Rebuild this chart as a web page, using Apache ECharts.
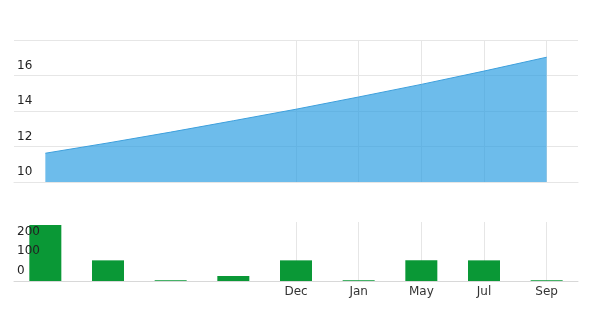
<!DOCTYPE html>
<html>
<head>
<meta charset="utf-8">
<script src="https://cdn.jsdelivr.net/npm/echarts@6/dist/echarts.min.js"></script>
<style>
html,body{margin:0;padding:0;background:#fff;}
#chart{width:602px;height:316px;}
</style>
</head>
<body>
<div id="chart"></div>
<script>
// Data
var categories = ['', '', '', '', 'Dec', 'Jan', 'May', 'Jul', 'Sep'];
var lineValues = [11.62, 12.2, 12.81, 13.45, 14.1, 14.79, 15.5, 16.25, 17.03];
var barValues = [285, 105, 4, 25, 105, 4, 105, 105, 4];
var topTicks = {min: 10, max: 18, interval: 2};
var bottomTicks = {min: 0, max: 300, interval: 100};

var FONT = 'DejaVu Sans';
var gridColor = '#e6e6e6';
var splitInterval = function (i) { return i >= 4; };

var chart = echarts.init(document.getElementById('chart'), null, {renderer: 'canvas'});
chart.setOption({
  animation: false,
  textStyle: {fontFamily: FONT},
  grid: [
    {left: 14, right: 24, top: 40, height: 142},
    {left: 14, right: 24, top: 222, height: 59}
  ],
  xAxis: [
    {
      type: 'category', gridIndex: 0, data: categories, boundaryGap: true,
      axisLine: {show: true, lineStyle: {color: gridColor}},
      axisTick: {show: false},
      axisLabel: {show: false},
      splitLine: {show: true, alignWithLabel: true, interval: splitInterval, lineStyle: {color: gridColor}}
    },
    {
      type: 'category', gridIndex: 1, data: categories, boundaryGap: true,
      axisLine: {show: true, lineStyle: {color: '#d8d8d8'}},
      axisTick: {show: false},
      axisLabel: {show: true, interval: 0, color: '#333', fontSize: 12, fontFamily: FONT, margin: 5},
      splitLine: {show: true, alignWithLabel: true, interval: splitInterval, lineStyle: {color: gridColor}}
    }
  ],
  yAxis: [
    {
      type: 'value', gridIndex: 0, min: topTicks.min, max: topTicks.max, interval: topTicks.interval,
      axisLine: {show: false}, axisTick: {show: false},
      axisLabel: {inside: true, margin: 3, showMaxLabel: false, color: '#222', fontSize: 12, fontFamily: FONT,
        align: 'left', verticalAlign: 'bottom', padding: [0, 0, 4, 0]},
      splitLine: {show: true, lineStyle: {color: gridColor}}
    },
    {
      type: 'value', gridIndex: 1, min: bottomTicks.min, max: bottomTicks.max, interval: bottomTicks.interval,
      axisLine: {show: false}, axisTick: {show: false},
      axisLabel: {inside: true, margin: 3, showMaxLabel: false, color: '#222', fontSize: 12, fontFamily: FONT,
        align: 'left', verticalAlign: 'bottom', padding: [0, 0, 4, 0]},
      splitLine: {show: false},
      z: 10
    }
  ],
  series: [
    {
      type: 'line', xAxisIndex: 0, yAxisIndex: 0, data: lineValues,
      symbol: 'none', smooth: false,
      lineStyle: {color: '#3d9fdc', width: 1},
      areaStyle: {color: 'rgb(40,156,226)', opacity: 0.68, origin: 'start'},
      z: 2
    },
    {
      type: 'bar', xAxisIndex: 1, yAxisIndex: 1, data: barValues,
      barWidth: 32,
      itemStyle: {color: '#0a9836'},
      z: 2
    }
  ]
});
</script>
</body>
</html>
